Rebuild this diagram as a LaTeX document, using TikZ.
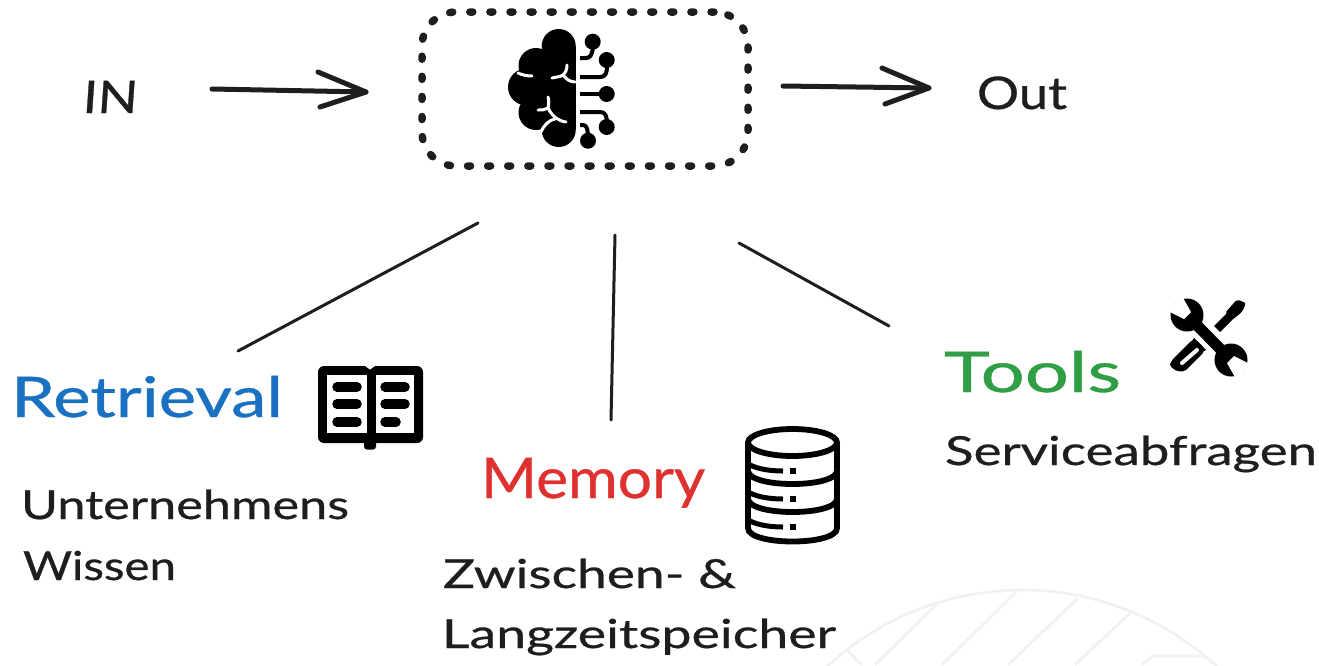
\documentclass[tikz,border=0pt]{standalone}
\usepackage{fontspec}
\setmainfont[FakeBold=0.6]{Lato}
\newfontfamily\slantfont[FakeSlant=0.06,FakeBold=0.6]{Lato}
\usetikzlibrary{arrows.meta,shapes.misc}
\definecolor{ink}{HTML}{1E1E1E}
\definecolor{bluet}{HTML}{1971C2}
\definecolor{redt}{HTML}{E03131}
\definecolor{greent}{HTML}{2F9E44}
\definecolor{mark}{HTML}{F1F1F1}
\newcommand{\fitw}[2]{\resizebox{#1pt}{\height}{#2}}
\tikzset{
  lab/.style={anchor=base west,inner sep=0pt,outer sep=0pt,text=ink,font=\fontsize{40}{40}\selectfont},
  head/.style={lab,font=\fontsize{56}{56}\selectfont},
  flow/.style={draw=ink,line width=5pt,line cap=round,line join=round},
  spoke/.style={draw=ink,line width=3pt,line cap=round},
  cut/.style={draw=white,line width=3pt,line cap=round},
  wire/.style={draw=black,line width=4pt},
  dbline/.style={draw=black,line width=5.8pt},
  bar/.style={draw=black,line width=9.5pt,line cap=round},
  wm/.style={draw=mark,line width=2.6pt}
}
\begin{document}
\begin{tikzpicture}[x=1pt,y=-1pt]
\useasboundingbox (0,0) rectangle (1319,665);
\fill[white] (0,0) rectangle (1319,665);
% watermark
\begin{scope}
\clip (0,0) rectangle (1319,665);
\draw[wm] (1022,876) circle (286);
\draw[wm] (938,603) -- (875,665);
\draw[wm] (1018,590) -- (942,665);
\draw[wm] (1078,598) -- (1008,665);
\draw[wm] (1130,613) -- (1075,665);
\draw[wm] (847,650) -- (862,665);
\draw[wm] (1205,656) -- (1152,656) -- (1142,665);
\end{scope}
% central box
\node[draw=ink,line width=7.5pt,line cap=round,dash pattern=on 3pt off 17.1pt,rounded corners=34pt,
      minimum width=326pt,minimum height=154pt,inner sep=0pt] (agent) at (585,89) {};
% brain
\fill[black] (558.7,46) circle (17);
\fill[black] (536,65.5) circle (17.5);
\fill[black] (526.5,87) circle (18.5);
\fill[black] (536,112.5) circle (17.5);
\fill[black] (558.7,130) circle (17);
\fill[black] (541.7,46) rectangle (575.7,130);
\fill[black] (530,60) rectangle (575.7,120);
\draw[cut] (518,73) .. controls (522,75) and (527,76) .. (532,76);
\draw[cut] (552,78) .. controls (556,77) and (560,77) .. (563,75) .. controls (566,72) and (567,69) .. (567,65);
\draw[cut] (563,75) .. controls (566,79) and (570,82) .. (575,82);
\draw[cut] (538,110) .. controls (542,110) and (545,110) .. (548,108) .. controls (549,104) and (549,100) .. (548,97);
\draw[cut] (548,108) .. controls (552,116) and (558,121) .. (566,122);
\draw[cut] (555,119) .. controls (549,120) and (544,125) .. (541,132);
% circuit
\draw[wire] (580,58) -- (586,58) .. controls (590,58) and (592,55) .. (593,48);
\draw[wire] (580,77) -- (600,77) .. controls (605,77) and (607,74) .. (607,66);
\draw[wire] (580,94) -- (605,94);
\draw[wire] (580,112) -- (600,112) .. controls (605,112) and (607,115) .. (607,125);
\draw[wire] (580,125) -- (583,125) .. controls (586,125) and (588,128) .. (588,138);
\fill[black] (592.7,41.7) circle (8);
\fill[black] (606.7,60) circle (8);
\fill[black] (606.7,94) circle (8);
\fill[black] (606.7,127) circle (8);
\fill[black] (588,140.7) circle (8);
% labels top
\node[lab,font=\fontsize{45}{45}\selectfont] (in) at (82,113) {\fitw{55}{\slantfont IN}};
\node[lab,font=\fontsize{45}{45}\selectfont] (out) at (977,109) {\fitw{90}{Out}};
% arrows
\coordinate (inS) at (212,89);
\coordinate (inE) at (366,92);
\coordinate (inA) at (318,72);
\coordinate (inB) at (320,107);
\coordinate (outS) at (783,86);
\coordinate (outE) at (929,88);
\coordinate (outA) at (882,68);
\coordinate (outB) at (885,104);
\draw[flow] (inS) -- (inE);
\draw[flow] (inA) -- (inE) -- (inB);
\draw[flow] (outS) -- (outE);
\draw[flow] (outA) -- (outE) -- (outB);
% spokes
\coordinate (s1a) at (478,223);
\coordinate (s1b) at (238,351);
\coordinate (s2a) at (615,235);
\coordinate (s2b) at (611,420);
\coordinate (s3a) at (739,243);
\coordinate (s3b) at (889,326);
\draw[spoke] (s1a) -- (s1b);
\draw[spoke] (s2a) -- (s2b);
\draw[spoke] (s3a) -- (s3b);
% Retrieval
\node[head,text=bluet] (ret) at (11,417) {\fitw{272}{Retrieval}};
\node[lab] (u1) at (21,519) {\fitw{328}{Unternehmens}};
\node[lab] (u2) at (23,580) {\fitw{153}{Wissen}};
% book
\fill[black,rounded corners=6pt] (318,366) rectangle (423,443);
\fill[black,rounded corners=3pt] (364,440) rectangle (376,449.5);
\fill[white] (365,366) -- (375,366) -- (370,369.5) -- cycle;
\fill[white] (327,375) rectangle (366.5,433);
\fill[white] (376,375) rectangle (414,433);
\foreach \yy in {387,404,422}{\draw[bar] (337,\yy) -- (357,\yy);}
\draw[bar] (385,387) -- (405,387);
\draw[bar] (385,404) -- (405,404);
\draw[bar] (385,422) -- (396,422);
% Memory
\node[head,text=redt] (mem) at (481,498) {\fitw{224}{Memory}};
\node[lab] (m1) at (443,588) {\fitw{293}{Zwischen- \&}};
\node[lab] (m2) at (442,648) {\fitw{394}{Langzeitspeicher}};
% database
\draw[dbline] (792.5,442.5) ellipse[x radius=44.5,y radius=13.5];
\draw[dbline] (748,442.5) -- (748,528) .. controls (748,546) and (837,546) .. (837,528) -- (837,442.5);
\draw[dbline] (748,470.5) .. controls (748,488.5) and (837,488.5) .. (837,470.5);
\draw[dbline] (748,498.5) .. controls (748,516.5) and (837,516.5) .. (837,498.5);
\foreach \yy in {471,499,527}{
  \draw[black,line width=5pt] (750,\yy-6) .. controls (758,\yy-2) and (770,\yy) .. (783,\yy);
  \fill[black] (790,\yy-3) rectangle (796,\yy+3);
}
% Tools
\node[head,text=greent] (tools) at (944,392) {\fitw{177}{Tools}};
\node[lab] (svc) at (945,465) {\fitw{372}{Serviceabfragen}};
% screwdriver
\fill[black,rounded corners=2pt] (1237,299.5) -- (1246,303) -- (1242,312) -- (1232,320) -- (1225,313) -- cycle;
\draw[black,line width=8.5pt] (1230,316) -- (1217,329);
\fill[black,rounded corners=5pt] (1194,338) -- (1206,350) -- (1183,373) -- (1170,368) -- (1170,362) -- cycle;
\fill[black] (1194,338) -- (1206,350) -- (1198,354) -- (1190,344) -- cycle;
\draw[white,line width=4pt,line cap=round] (1197,350) -- (1182,363);
% wrench
\draw[white,line width=17pt] (1197,325.5) -- (1221,350);
\draw[black,line width=11pt] (1187,315) -- (1231,360);
\fill[black] (1187,315) circle (16.5);
\fill[black] (1231,360) circle (16.5);
\fill[white] (1191,312) -- (1184,319) -- (1168,311) -- (1182,296) -- cycle;
\fill[white] (1227,363) -- (1234,356) -- (1250,364) -- (1236,379) -- cycle;
\end{tikzpicture}
\end{document}
